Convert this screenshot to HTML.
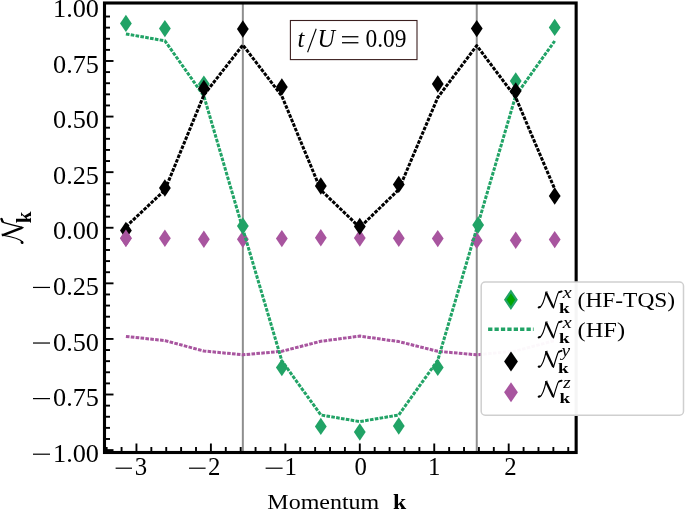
<!DOCTYPE html>
<html><head><meta charset="utf-8"><title>chart</title>
<style>
html,body{margin:0;padding:0;background:#fff;}
body{width:685px;height:509px;overflow:hidden;font-family:"Liberation Serif",serif;}
svg{display:block;will-change:transform;}
text{font-family:"Liberation Serif",serif;fill:#000;}
</style></head><body>
<svg width="685" height="509" viewBox="0 0 685 509">
<rect x="0" y="0" width="685" height="509" fill="#fff"/>
<line x1="242.85" y1="3" x2="242.85" y2="452.5" stroke="#8e8e8e" stroke-width="2.0"/>
<line x1="476.75" y1="3" x2="476.75" y2="452.5" stroke="#8e8e8e" stroke-width="2.0"/>
<polygon points="125.91,229.50 131.81,238.20 125.91,246.90 120.01,238.20" fill="#a8559f" />
<polygon points="164.89,229.50 170.79,238.20 164.89,246.90 158.99,238.20" fill="#a8559f" />
<polygon points="203.87,230.50 209.77,239.20 203.87,247.90 197.97,239.20" fill="#a8559f" />
<polygon points="242.85,230.50 248.75,239.20 242.85,247.90 236.95,239.20" fill="#a8559f" />
<polygon points="281.84,229.90 287.74,238.60 281.84,247.30 275.94,238.60" fill="#a8559f" />
<polygon points="320.82,229.10 326.72,237.80 320.82,246.50 314.92,237.80" fill="#a8559f" />
<polygon points="359.80,229.30 365.70,238.00 359.80,246.70 353.90,238.00" fill="#a8559f" />
<polygon points="398.78,229.50 404.68,238.20 398.78,246.90 392.88,238.20" fill="#a8559f" />
<polygon points="437.76,229.90 443.66,238.60 437.76,247.30 431.86,238.60" fill="#a8559f" />
<polygon points="476.75,231.70 482.65,240.40 476.75,249.10 470.85,240.40" fill="#a8559f" />
<polygon points="515.73,231.60 521.63,240.30 515.73,249.00 509.83,240.30" fill="#a8559f" />
<polygon points="554.71,230.90 560.61,239.60 554.71,248.30 548.81,239.60" fill="#a8559f" />
<polyline points="125.91,336.40 164.89,340.60 203.87,351.00 242.85,354.80 281.84,351.30 320.82,341.30 359.80,336.10 398.78,341.60 437.76,351.30 476.75,354.80 515.73,351.00 554.71,340.60" fill="none" stroke="#a8559f" stroke-width="3.0" stroke-dasharray="3.6 1.3" stroke-linejoin="round"/>
<polygon points="125.91,14.70 131.81,23.40 125.91,32.10 120.01,23.40" fill="#21a366" />
<polygon points="164.89,19.90 170.79,28.60 164.89,37.30 158.99,28.60" fill="#21a366" />
<polygon points="203.87,75.40 209.77,84.10 203.87,92.80 197.97,84.10" fill="#21a366" />
<polygon points="242.85,217.30 248.75,226.00 242.85,234.70 236.95,226.00" fill="#21a366" />
<polygon points="281.84,358.90 287.74,367.60 281.84,376.30 275.94,367.60" fill="#21a366" />
<polygon points="320.82,417.70 326.72,426.40 320.82,435.10 314.92,426.40" fill="#21a366" />
<polygon points="359.80,423.30 365.70,432.00 359.80,440.70 353.90,432.00" fill="#21a366" />
<polygon points="398.78,417.30 404.68,426.00 398.78,434.70 392.88,426.00" fill="#21a366" />
<polygon points="437.76,358.70 443.66,367.40 437.76,376.10 431.86,367.40" fill="#21a366" />
<polygon points="478.15,216.30 484.05,225.00 478.15,233.70 472.25,225.00" fill="#21a366" />
<polygon points="515.73,72.30 521.63,81.00 515.73,89.70 509.83,81.00" fill="#21a366" />
<polygon points="554.71,18.70 560.61,27.40 554.71,36.10 548.81,27.40" fill="#21a366" />
<polyline points="125.91,33.90 164.89,40.80 203.87,96.00 242.85,229.00 281.84,360.80 320.82,415.00 359.80,421.60 398.78,415.00 437.76,360.30 476.75,228.40 515.73,95.60 554.71,41.00" fill="none" stroke="#21a366" stroke-width="3.0" stroke-dasharray="3.6 1.3" stroke-linejoin="round"/>
<polygon points="125.91,221.80 131.81,230.50 125.91,239.20 120.01,230.50" fill="#000" />
<polygon points="164.89,179.30 170.79,188.00 164.89,196.70 158.99,188.00" fill="#000" />
<polygon points="203.87,79.80 209.77,88.50 203.87,97.20 197.97,88.50" fill="#000" />
<polygon points="242.85,20.30 248.75,29.00 242.85,37.70 236.95,29.00" fill="#000" />
<polygon points="281.84,78.30 287.74,87.00 281.84,95.70 275.94,87.00" fill="#000" />
<polygon points="320.82,177.30 326.72,186.00 320.82,194.70 314.92,186.00" fill="#000" />
<polygon points="359.80,217.70 365.70,226.40 359.80,235.10 353.90,226.40" fill="#000" />
<polygon points="398.78,175.70 404.68,184.40 398.78,193.10 392.88,184.40" fill="#000" />
<polygon points="437.76,75.30 443.66,84.00 437.76,92.70 431.86,84.00" fill="#000" />
<polygon points="476.75,19.90 482.65,28.60 476.75,37.30 470.85,28.60" fill="#000" />
<polygon points="515.73,82.30 521.63,91.00 515.73,99.70 509.83,91.00" fill="#000" />
<polygon points="554.71,187.30 560.61,196.00 554.71,204.70 548.81,196.00" fill="#000" />
<polyline points="125.91,226.80 164.89,190.00 203.87,95.00 242.85,45.00 281.84,96.00 320.82,190.00 359.80,227.50 398.78,189.50 437.76,97.50 476.75,45.60 515.73,97.50 554.71,189.00" fill="none" stroke="#000" stroke-width="3.0" stroke-dasharray="3.6 1.3" stroke-linejoin="round"/>
<polygon points="125.91,229.50 131.81,238.20 125.91,246.90 120.01,238.20" fill="#a8559f" />
<g stroke="#000" stroke-width="1.9"><line x1="105" y1="450.10" x2="113.50" y2="450.10"/>
<line x1="105" y1="438.98" x2="110.00" y2="438.98"/>
<line x1="105" y1="427.87" x2="110.00" y2="427.87"/>
<line x1="105" y1="416.75" x2="110.00" y2="416.75"/>
<line x1="105" y1="405.63" x2="110.00" y2="405.63"/>
<line x1="105" y1="394.51" x2="113.50" y2="394.51"/>
<line x1="105" y1="383.39" x2="110.00" y2="383.39"/>
<line x1="105" y1="372.28" x2="110.00" y2="372.28"/>
<line x1="105" y1="361.16" x2="110.00" y2="361.16"/>
<line x1="105" y1="350.04" x2="110.00" y2="350.04"/>
<line x1="105" y1="338.93" x2="113.50" y2="338.93"/>
<line x1="105" y1="327.81" x2="110.00" y2="327.81"/>
<line x1="105" y1="316.69" x2="110.00" y2="316.69"/>
<line x1="105" y1="305.57" x2="110.00" y2="305.57"/>
<line x1="105" y1="294.46" x2="110.00" y2="294.46"/>
<line x1="105" y1="283.34" x2="113.50" y2="283.34"/>
<line x1="105" y1="272.22" x2="110.00" y2="272.22"/>
<line x1="105" y1="261.10" x2="110.00" y2="261.10"/>
<line x1="105" y1="249.99" x2="110.00" y2="249.99"/>
<line x1="105" y1="238.87" x2="110.00" y2="238.87"/>
<line x1="105" y1="227.75" x2="113.50" y2="227.75"/>
<line x1="105" y1="216.63" x2="110.00" y2="216.63"/>
<line x1="105" y1="205.51" x2="110.00" y2="205.51"/>
<line x1="105" y1="194.40" x2="110.00" y2="194.40"/>
<line x1="105" y1="183.28" x2="110.00" y2="183.28"/>
<line x1="105" y1="172.16" x2="113.50" y2="172.16"/>
<line x1="105" y1="161.04" x2="110.00" y2="161.04"/>
<line x1="105" y1="149.93" x2="110.00" y2="149.93"/>
<line x1="105" y1="138.81" x2="110.00" y2="138.81"/>
<line x1="105" y1="127.69" x2="110.00" y2="127.69"/>
<line x1="105" y1="116.58" x2="113.50" y2="116.58"/>
<line x1="105" y1="105.46" x2="110.00" y2="105.46"/>
<line x1="105" y1="94.34" x2="110.00" y2="94.34"/>
<line x1="105" y1="83.22" x2="110.00" y2="83.22"/>
<line x1="105" y1="72.10" x2="110.00" y2="72.10"/>
<line x1="105" y1="60.99" x2="113.50" y2="60.99"/>
<line x1="105" y1="49.87" x2="110.00" y2="49.87"/>
<line x1="105" y1="38.75" x2="110.00" y2="38.75"/>
<line x1="105" y1="27.63" x2="110.00" y2="27.63"/>
<line x1="105" y1="16.52" x2="110.00" y2="16.52"/>
<line x1="106.67" y1="452" x2="106.67" y2="447.00"/>
<line x1="121.56" y1="452" x2="121.56" y2="447.00"/>
<line x1="136.45" y1="452" x2="136.45" y2="443.50"/>
<line x1="151.34" y1="452" x2="151.34" y2="447.00"/>
<line x1="166.23" y1="452" x2="166.23" y2="447.00"/>
<line x1="181.12" y1="452" x2="181.12" y2="447.00"/>
<line x1="196.01" y1="452" x2="196.01" y2="447.00"/>
<line x1="210.90" y1="452" x2="210.90" y2="443.50"/>
<line x1="225.79" y1="452" x2="225.79" y2="447.00"/>
<line x1="240.68" y1="452" x2="240.68" y2="447.00"/>
<line x1="255.57" y1="452" x2="255.57" y2="447.00"/>
<line x1="270.46" y1="452" x2="270.46" y2="447.00"/>
<line x1="285.35" y1="452" x2="285.35" y2="443.50"/>
<line x1="300.24" y1="452" x2="300.24" y2="447.00"/>
<line x1="315.13" y1="452" x2="315.13" y2="447.00"/>
<line x1="330.02" y1="452" x2="330.02" y2="447.00"/>
<line x1="344.91" y1="452" x2="344.91" y2="447.00"/>
<line x1="359.80" y1="452" x2="359.80" y2="443.50"/>
<line x1="374.69" y1="452" x2="374.69" y2="447.00"/>
<line x1="389.58" y1="452" x2="389.58" y2="447.00"/>
<line x1="404.47" y1="452" x2="404.47" y2="447.00"/>
<line x1="419.36" y1="452" x2="419.36" y2="447.00"/>
<line x1="434.25" y1="452" x2="434.25" y2="443.50"/>
<line x1="449.14" y1="452" x2="449.14" y2="447.00"/>
<line x1="464.03" y1="452" x2="464.03" y2="447.00"/>
<line x1="478.92" y1="452" x2="478.92" y2="447.00"/>
<line x1="493.81" y1="452" x2="493.81" y2="447.00"/>
<line x1="508.70" y1="452" x2="508.70" y2="443.50"/>
<line x1="523.59" y1="452" x2="523.59" y2="447.00"/>
<line x1="538.48" y1="452" x2="538.48" y2="447.00"/>
<line x1="553.37" y1="452" x2="553.37" y2="447.00"/>
<line x1="568.26" y1="452" x2="568.26" y2="447.00"/></g>
<rect x="104.5" y="3.0" width="471.65" height="449.5" fill="none" stroke="#000" stroke-width="3.1"/>
<text x="99" y="17.00" font-size="24.8" text-anchor="end" textLength="46" lengthAdjust="spacingAndGlyphs">1.00</text>
<text x="99" y="72.59" font-size="24.8" text-anchor="end" textLength="46" lengthAdjust="spacingAndGlyphs">0.75</text>
<text x="99" y="128.18" font-size="24.8" text-anchor="end" textLength="46" lengthAdjust="spacingAndGlyphs">0.50</text>
<text x="99" y="183.76" font-size="24.8" text-anchor="end" textLength="46" lengthAdjust="spacingAndGlyphs">0.25</text>
<text x="99" y="239.35" font-size="24.8" text-anchor="end" textLength="46" lengthAdjust="spacingAndGlyphs">0.00</text>
<text x="99" y="294.94" font-size="24.8" text-anchor="end" textLength="46" lengthAdjust="spacingAndGlyphs">0.25</text>
<rect x="33" y="286.84" width="17" height="1.2" fill="#000"/>
<text x="99" y="350.53" font-size="24.8" text-anchor="end" textLength="46" lengthAdjust="spacingAndGlyphs">0.50</text>
<rect x="33" y="342.43" width="17" height="1.2" fill="#000"/>
<text x="99" y="406.11" font-size="24.8" text-anchor="end" textLength="46" lengthAdjust="spacingAndGlyphs">0.75</text>
<rect x="33" y="398.01" width="17" height="1.2" fill="#000"/>
<text x="99" y="461.70" font-size="24.8" text-anchor="end" textLength="46" lengthAdjust="spacingAndGlyphs">1.00</text>
<rect x="33" y="453.60" width="17" height="1.2" fill="#000"/>
<text x="141" y="475" font-size="24.8" text-anchor="middle">3</text>
<text x="214.3" y="475" font-size="24.8" text-anchor="middle">2</text>
<text x="290.7" y="475" font-size="24.8" text-anchor="middle">1</text>
<text x="360.8" y="475" font-size="24.8" text-anchor="middle">0</text>
<text x="434.2" y="475" font-size="24.8" text-anchor="middle">1</text>
<text x="510.5" y="475" font-size="24.8" text-anchor="middle">2</text>
<rect x="115.6" y="467.6" width="16.4" height="1.2" fill="#000"/>
<rect x="189" y="467.6" width="16.6" height="1.2" fill="#000"/>
<rect x="265.6" y="467.6" width="17.0" height="1.2" fill="#000"/>
<text x="267.3" y="508.7" font-size="21.6" textLength="112" lengthAdjust="spacingAndGlyphs">Momentum</text>
<text x="393" y="508.7" font-size="21.6" font-weight="bold" textLength="13.2" lengthAdjust="spacingAndGlyphs">k</text>
<g transform="translate(22.8,244.1) rotate(-90) scale(1.05,1.22)"><g fill="none" stroke="#000" stroke-linecap="round" stroke-linejoin="round">
<ellipse cx="1.5" cy="-0.6" rx="1.5" ry="1.2" fill="#000" stroke="none" transform="rotate(-20 1.5 -0.6)"/>
<path d="M2.2,-0.3 Q5.6,-2.6 8.45,-16.3" stroke-width="1.15"/>
<path d="M8.6,-16.2 L15.6,-0.4" stroke-width="2.3" stroke-linecap="butt"/>
<path d="M7.9,-16.6 L9.5,-16.9" stroke-width="1"/>
<path d="M15.8,0.2 Q18.6,-10 20.4,-15.4 Q21,-16.6 23.9,-17.3" stroke-width="1.15"/>
<path d="M21.4,-16.6 L24,-17.5" stroke-width="1.9"/>
</g></g>
<text transform="translate(31,223.2) rotate(-90)" font-size="21" font-weight="bold">k</text>
<rect x="290.4" y="20.5" width="126.6" height="39.1" fill="#fff" stroke="#3b1f1f" stroke-width="1.1"/>
<text x="297.6" y="47" font-size="24.5" font-style="italic">t</text>
<line x1="307.6" y1="52.3" x2="316.2" y2="28.8" stroke="#000" stroke-width="1.1"/>
<text x="317.5" y="47" font-size="24.5" font-style="italic" textLength="17.5" lengthAdjust="spacingAndGlyphs">U</text>
<rect x="342" y="36.1" width="16.4" height="1.3" fill="#000"/><rect x="342" y="42.1" width="16.4" height="1.3" fill="#000"/>
<text x="365.5" y="47" font-size="24.5" textLength="41" lengthAdjust="spacingAndGlyphs">0.09</text>
<rect x="481.2" y="282" width="202.3" height="133.2" rx="4" ry="4" fill="#fff" fill-opacity="0.96" stroke="#cfcfcf" stroke-width="1.5"/>
<polygon points="510.90,291.40 516.50,299.70 510.90,308.00 505.30,299.70" fill="#00a600" stroke="#21a366" stroke-width="2.2" stroke-linejoin="miter" stroke-miterlimit="10"/>
<line x1="488.1" y1="329.3" x2="533.6" y2="329.3" stroke="#21a366" stroke-width="3.5" stroke-dasharray="4.3 2.1"/>
<polygon points="511.00,351.50 517.90,361.50 511.00,371.50 504.10,361.50" fill="#000" />
<polygon points="511.00,382.30 517.90,392.30 511.00,402.30 504.10,392.30" fill="#a8559f" />
<g transform="translate(537.6,307.8) scale(1,0.94)"><g fill="none" stroke="#000" stroke-linecap="round" stroke-linejoin="round">
<ellipse cx="1.5" cy="-0.6" rx="1.5" ry="1.2" fill="#000" stroke="none" transform="rotate(-20 1.5 -0.6)"/>
<path d="M2.2,-0.3 Q5.6,-2.6 8.45,-16.3" stroke-width="1.15"/>
<path d="M8.6,-16.2 L15.6,-0.4" stroke-width="2.3" stroke-linecap="butt"/>
<path d="M7.9,-16.6 L9.5,-16.9" stroke-width="1"/>
<path d="M15.8,0.2 Q18.6,-10 20.4,-15.4 Q21,-16.6 23.9,-17.3" stroke-width="1.15"/>
<path d="M21.4,-16.6 L24,-17.5" stroke-width="1.9"/>
</g></g>
<text x="562.8" y="298.3" font-size="17.5" font-style="italic" textLength="9.0" lengthAdjust="spacingAndGlyphs">x</text>
<text x="559.0" y="313.3" font-size="15.3" font-weight="bold" textLength="10.6" lengthAdjust="spacingAndGlyphs">k</text>
<g transform="translate(537.6,337.8) scale(1,0.94)"><g fill="none" stroke="#000" stroke-linecap="round" stroke-linejoin="round">
<ellipse cx="1.5" cy="-0.6" rx="1.5" ry="1.2" fill="#000" stroke="none" transform="rotate(-20 1.5 -0.6)"/>
<path d="M2.2,-0.3 Q5.6,-2.6 8.45,-16.3" stroke-width="1.15"/>
<path d="M8.6,-16.2 L15.6,-0.4" stroke-width="2.3" stroke-linecap="butt"/>
<path d="M7.9,-16.6 L9.5,-16.9" stroke-width="1"/>
<path d="M15.8,0.2 Q18.6,-10 20.4,-15.4 Q21,-16.6 23.9,-17.3" stroke-width="1.15"/>
<path d="M21.4,-16.6 L24,-17.5" stroke-width="1.9"/>
</g></g>
<text x="562.8" y="328.3" font-size="17.5" font-style="italic" textLength="9.0" lengthAdjust="spacingAndGlyphs">x</text>
<text x="559.0" y="343.3" font-size="15.3" font-weight="bold" textLength="10.6" lengthAdjust="spacingAndGlyphs">k</text>
<g transform="translate(537.6,367.2) scale(1,0.94)"><g fill="none" stroke="#000" stroke-linecap="round" stroke-linejoin="round">
<ellipse cx="1.5" cy="-0.6" rx="1.5" ry="1.2" fill="#000" stroke="none" transform="rotate(-20 1.5 -0.6)"/>
<path d="M2.2,-0.3 Q5.6,-2.6 8.45,-16.3" stroke-width="1.15"/>
<path d="M8.6,-16.2 L15.6,-0.4" stroke-width="2.3" stroke-linecap="butt"/>
<path d="M7.9,-16.6 L9.5,-16.9" stroke-width="1"/>
<path d="M15.8,0.2 Q18.6,-10 20.4,-15.4 Q21,-16.6 23.9,-17.3" stroke-width="1.15"/>
<path d="M21.4,-16.6 L24,-17.5" stroke-width="1.9"/>
</g></g>
<text x="561.4" y="356.2" font-size="16.5" font-style="italic" textLength="8.6" lengthAdjust="spacingAndGlyphs">y</text>
<text x="558.0" y="372.7" font-size="15.3" font-weight="bold" textLength="10.6" lengthAdjust="spacingAndGlyphs">k</text>
<g transform="translate(537.6,397.1) scale(1,0.94)"><g fill="none" stroke="#000" stroke-linecap="round" stroke-linejoin="round">
<ellipse cx="1.5" cy="-0.6" rx="1.5" ry="1.2" fill="#000" stroke="none" transform="rotate(-20 1.5 -0.6)"/>
<path d="M2.2,-0.3 Q5.6,-2.6 8.45,-16.3" stroke-width="1.15"/>
<path d="M8.6,-16.2 L15.6,-0.4" stroke-width="2.3" stroke-linecap="butt"/>
<path d="M7.9,-16.6 L9.5,-16.9" stroke-width="1"/>
<path d="M15.8,0.2 Q18.6,-10 20.4,-15.4 Q21,-16.6 23.9,-17.3" stroke-width="1.15"/>
<path d="M21.4,-16.6 L24,-17.5" stroke-width="1.9"/>
</g></g>
<text x="563.3" y="387.7" font-size="16" font-style="italic" textLength="7.4" lengthAdjust="spacingAndGlyphs">z</text>
<text x="559.4" y="402.6" font-size="15.3" font-weight="bold" textLength="10.6" lengthAdjust="spacingAndGlyphs">k</text>
<text x="577.6" y="306.6" font-size="21" textLength="97.5" lengthAdjust="spacingAndGlyphs">(HF-TQS)</text>
<text x="577.6" y="336.6" font-size="21" textLength="47.5" lengthAdjust="spacingAndGlyphs">(HF)</text>
</svg></body></html>
